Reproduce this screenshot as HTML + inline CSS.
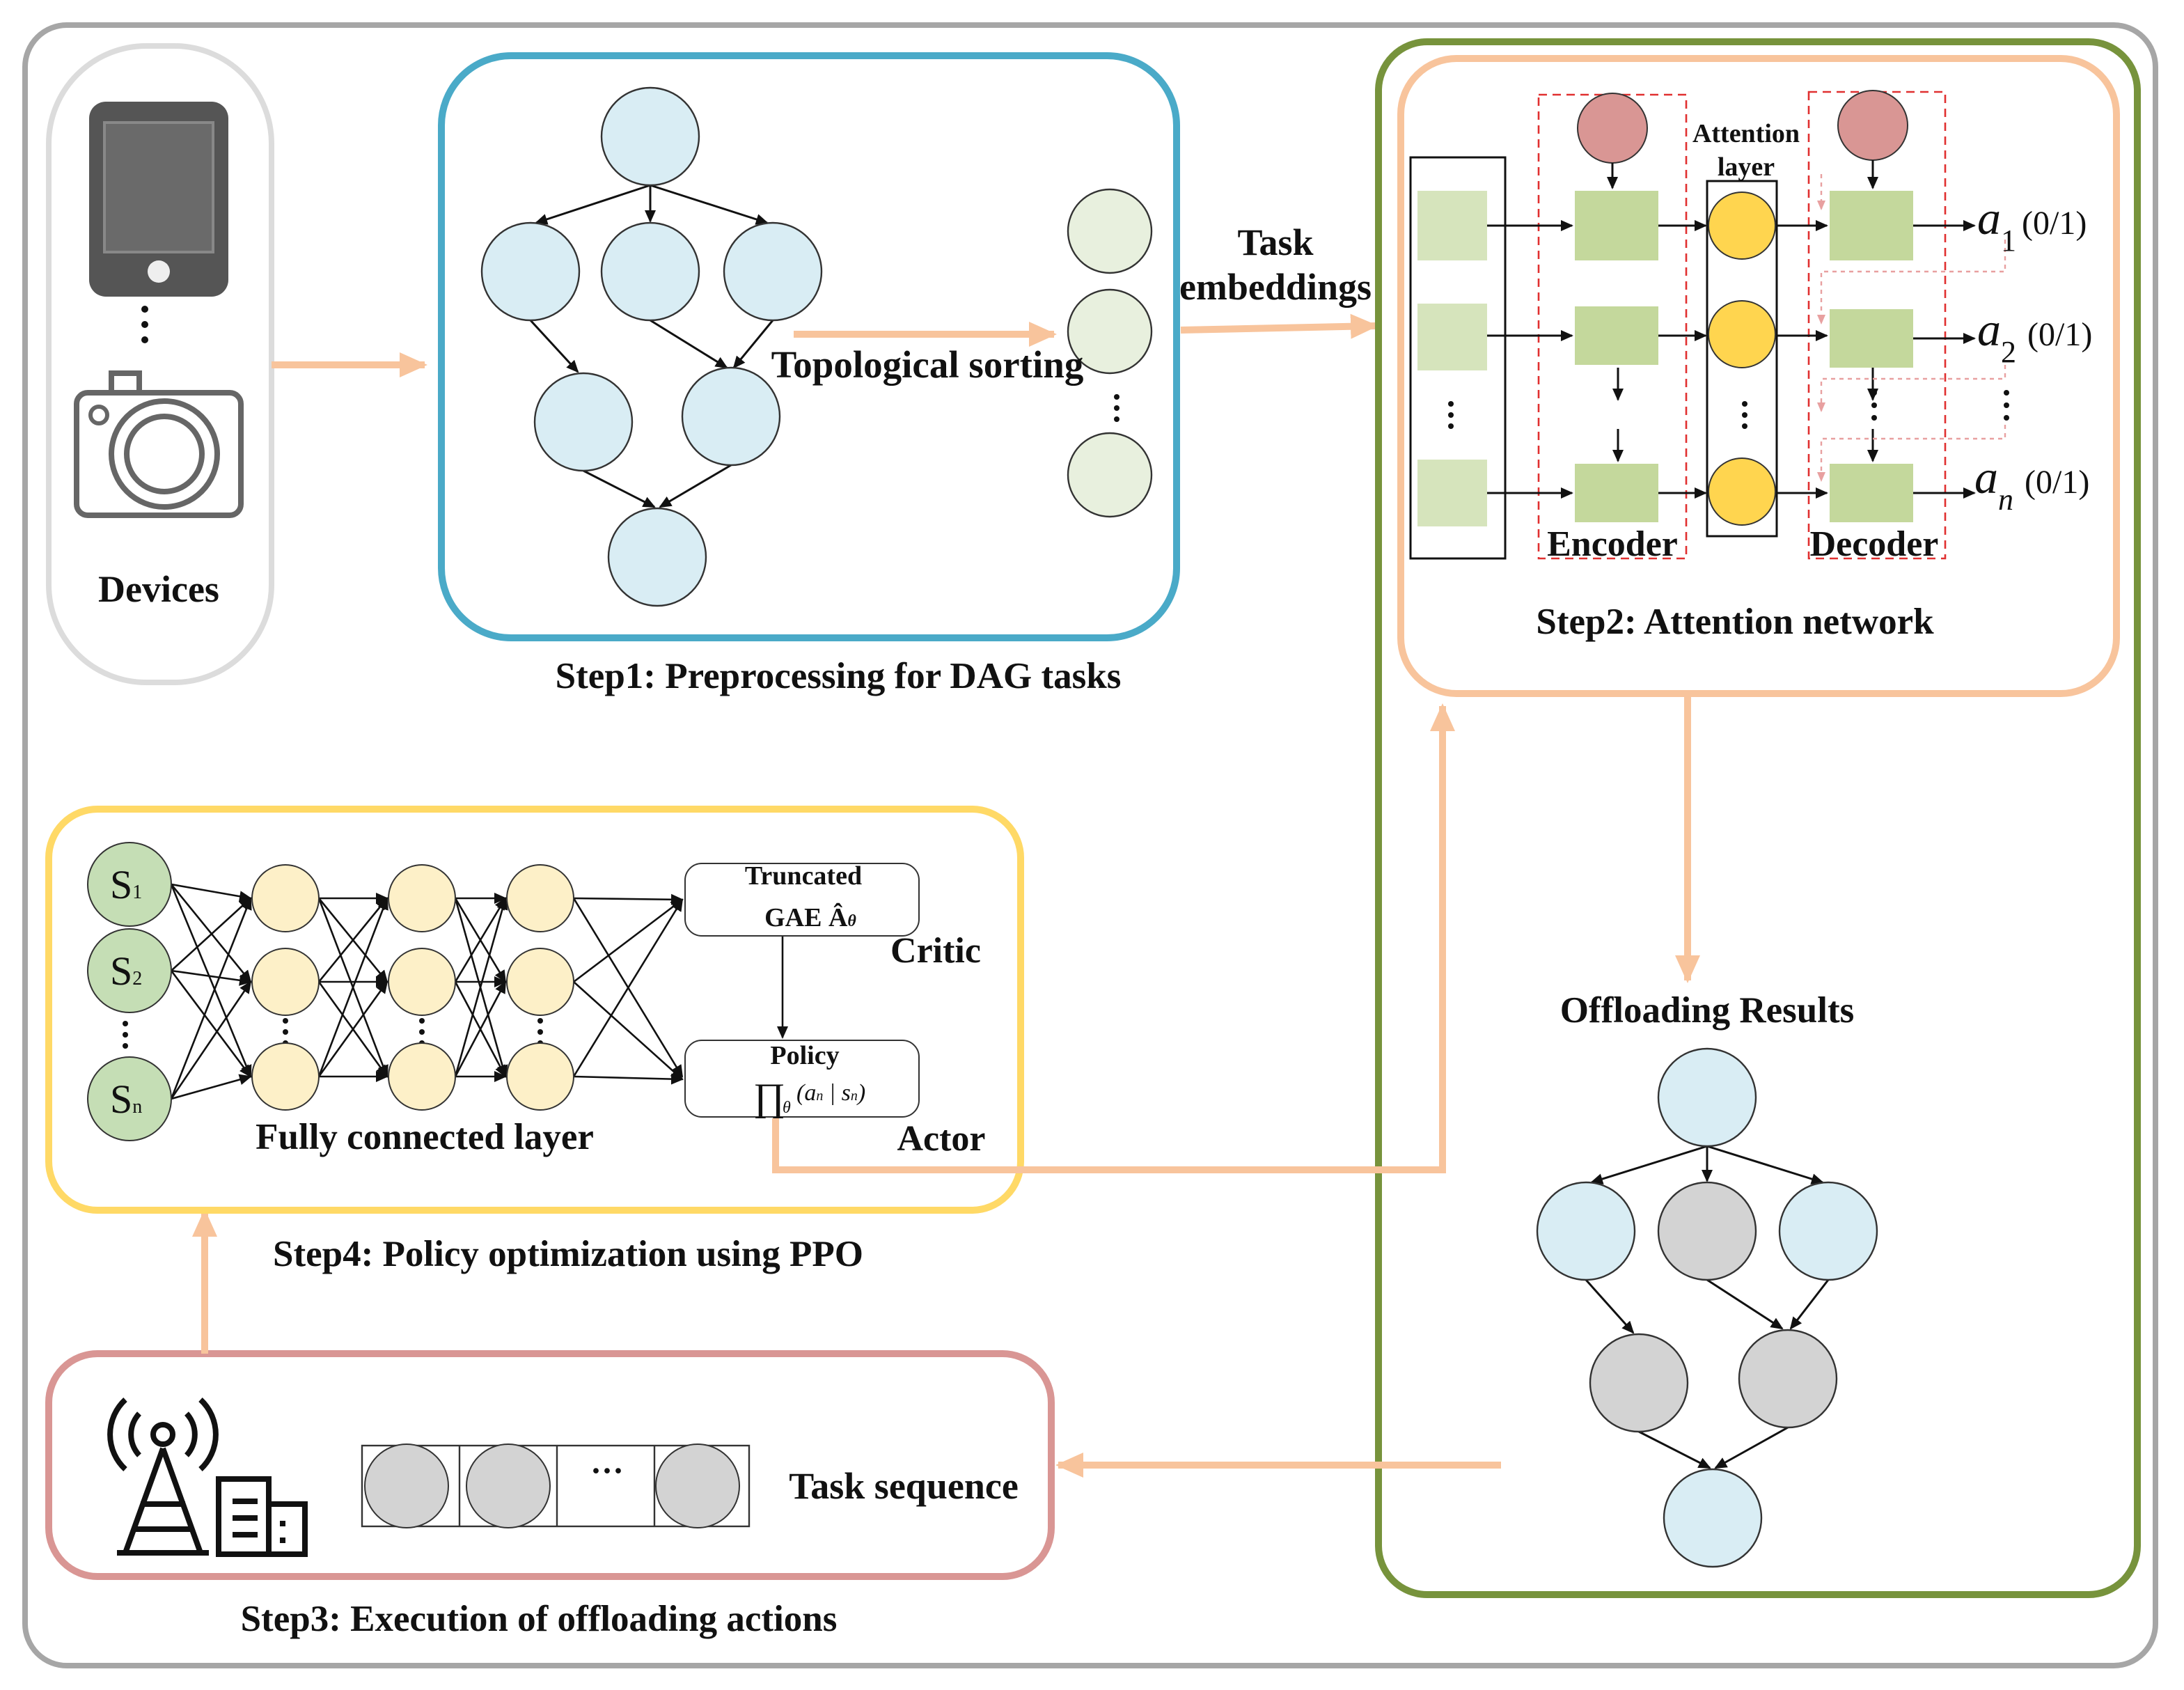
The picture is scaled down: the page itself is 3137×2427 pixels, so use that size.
<!DOCTYPE html>
<html><head><meta charset="utf-8"><style>
html,body{margin:0;padding:0;background:#fff;width:3137px;height:2427px;overflow:hidden}
svg{display:block}
text{font-family:"Liberation Serif",serif;font-weight:bold;fill:#111}
</style></head><body>
<svg width="3137" height="2427" viewBox="0 0 1568.5 1213.5" xmlns="http://www.w3.org/2000/svg">
<defs>
<marker id="ak" markerWidth="10" markerHeight="10" refX="8" refY="5" orient="auto" markerUnits="userSpaceOnUse"><path d="M0,1 L9,5 L0,9 z" fill="#111"/></marker>
<marker id="ao" markerWidth="22" markerHeight="22" refX="18" refY="11" orient="auto" markerUnits="userSpaceOnUse"><path d="M0,2 L20,11 L0,20 z" fill="#f8c49c"/></marker>
<marker id="ap" markerWidth="8" markerHeight="8" refX="6" refY="4" orient="auto" markerUnits="userSpaceOnUse"><path d="M0,1 L7,4 L0,7 z" fill="#e8a0a0"/></marker>
</defs>
<rect x="18" y="18" width="1530" height="1178" rx="30" fill="none" stroke="#a6a6a6" stroke-width="4"/>
<rect x="35" y="33" width="160" height="457" rx="70" fill="none" stroke="#dcdcdc" stroke-width="4"/>
<rect x="64" y="73" width="100" height="140" rx="12" fill="#555"/>
<rect x="75" y="88" width="78" height="93" fill="#6a6a6a" stroke="#888" stroke-width="2"/>
<circle cx="114" cy="195" r="8" fill="#eee"/>
<g fill="#111"><circle cx="104" cy="222" r="2.5"/><circle cx="104" cy="233" r="2.5"/><circle cx="104" cy="244" r="2.5"/></g>
<rect x="80" y="268" width="20" height="14" fill="none" stroke="#666" stroke-width="4"/>
<rect x="55" y="282" width="118" height="88" rx="8" fill="none" stroke="#666" stroke-width="4"/>
<circle cx="118" cy="326" r="38" fill="none" stroke="#666" stroke-width="4"/>
<circle cx="118" cy="326" r="27" fill="none" stroke="#666" stroke-width="4"/>
<circle cx="71" cy="298" r="6" fill="none" stroke="#666" stroke-width="3"/>
<text x="114" y="432" font-size="27" text-anchor="middle">Devices</text>
<line x1="195" y1="262" x2="305" y2="262" stroke="#f8c49c" stroke-width="5" marker-end="url(#ao)"/>
<rect x="317" y="40" width="528" height="418" rx="50" fill="none" stroke="#4aaac8" stroke-width="5"/>
<g stroke="#111" stroke-width="1.5" marker-end="url(#ak)">
<line x1="467" y1="133" x2="385" y2="160"/><line x1="467" y1="133" x2="467" y2="159"/><line x1="467" y1="133" x2="551" y2="160"/>
<line x1="381" y1="230" x2="415" y2="267"/><line x1="467" y1="230" x2="522" y2="264"/><line x1="555" y1="230" x2="527" y2="264"/>
<line x1="419" y1="338" x2="470" y2="364"/><line x1="525" y1="334" x2="474" y2="364"/>
</g>
<g fill="#d9edf4" stroke="#333" stroke-width="1.2">
<circle cx="467" cy="98" r="35"/><circle cx="381" cy="195" r="35"/><circle cx="467" cy="195" r="35"/><circle cx="555" cy="195" r="35"/>
<circle cx="419" cy="303" r="35"/><circle cx="525" cy="299" r="35"/><circle cx="472" cy="400" r="35"/>
</g>
<g fill="#e8f0de" stroke="#333" stroke-width="1.2"><circle cx="797" cy="166" r="30"/><circle cx="797" cy="238" r="30"/><circle cx="797" cy="341" r="30"/></g>
<g fill="#111"><circle cx="802" cy="285" r="2"/><circle cx="802" cy="293" r="2"/><circle cx="802" cy="301" r="2"/></g>
<line x1="570" y1="240" x2="757" y2="240" stroke="#f8c49c" stroke-width="5" marker-end="url(#ao)"/>
<text x="666" y="271" font-size="27.5" text-anchor="middle">Topological sorting</text>
<text x="602" y="494" font-size="26.5" text-anchor="middle">Step1: Preprocessing for DAG tasks</text>
<text x="916" y="183" font-size="27" text-anchor="middle">Task</text>
<text x="916" y="215" font-size="27" text-anchor="middle">embeddings</text>
<line x1="848" y1="237" x2="988" y2="234" stroke="#f8c49c" stroke-width="5" marker-end="url(#ao)"/>
<rect x="990" y="30" width="545" height="1115" rx="35" fill="none" stroke="#77933c" stroke-width="5"/>
<rect x="1006" y="42" width="514" height="456" rx="40" fill="none" stroke="#f8c49c" stroke-width="5"/>
<rect x="1013" y="113" width="68" height="288" fill="none" stroke="#111" stroke-width="1.5"/>
<g fill="#d6e4bc"><rect x="1018" y="137" width="50" height="50"/><rect x="1018" y="218" width="50" height="48"/><rect x="1018" y="330" width="50" height="48"/></g>
<g fill="#111"><circle cx="1042" cy="290" r="2"/><circle cx="1042" cy="298" r="2"/><circle cx="1042" cy="306" r="2"/></g>
<rect x="1105" y="68" width="106" height="333" fill="none" stroke="#e03030" stroke-width="1.3" stroke-dasharray="6,4"/>
<rect x="1299" y="66" width="98" height="335" fill="none" stroke="#e03030" stroke-width="1.3" stroke-dasharray="6,4"/>
<circle cx="1158" cy="92" r="25" fill="#d99694" stroke="#333"/>
<circle cx="1345" cy="90" r="25" fill="#d99694" stroke="#333"/>
<g fill="#c4d89c"><rect x="1131" y="137" width="60" height="50"/><rect x="1131" y="220" width="60" height="42"/><rect x="1131" y="333" width="60" height="42"/>
<rect x="1314" y="137" width="60" height="50"/><rect x="1314" y="222" width="60" height="42"/><rect x="1314" y="333" width="60" height="42"/></g>
<rect x="1226" y="130" width="50" height="255" fill="none" stroke="#111" stroke-width="1.5"/>
<g fill="#ffd54f" stroke="#333"><circle cx="1251" cy="162" r="24"/><circle cx="1251" cy="240" r="24"/><circle cx="1251" cy="353" r="24"/></g>
<g fill="#111"><circle cx="1253" cy="290" r="2"/><circle cx="1253" cy="298" r="2"/><circle cx="1253" cy="306" r="2"/></g>
<text x="1254" y="102" font-size="19" text-anchor="middle">Attention</text>
<text x="1254" y="126" font-size="19" text-anchor="middle">layer</text>
<g stroke="#111" stroke-width="1.5" marker-end="url(#ak)">
<line x1="1068" y1="162" x2="1129" y2="162"/><line x1="1068" y1="241" x2="1129" y2="241"/><line x1="1068" y1="354" x2="1129" y2="354"/>
<line x1="1191" y1="162" x2="1225" y2="162"/><line x1="1191" y1="241" x2="1225" y2="241"/><line x1="1191" y1="354" x2="1225" y2="354"/>
<line x1="1276" y1="162" x2="1312" y2="162"/><line x1="1276" y1="241" x2="1312" y2="241"/><line x1="1276" y1="354" x2="1312" y2="354"/>
<line x1="1374" y1="162" x2="1418" y2="162"/><line x1="1374" y1="243" x2="1418" y2="243"/><line x1="1374" y1="354" x2="1418" y2="354"/>
<line x1="1158" y1="117" x2="1158" y2="135"/><line x1="1345" y1="115" x2="1345" y2="135"/>
<line x1="1162" y1="264" x2="1162" y2="287"/><line x1="1162" y1="308" x2="1162" y2="331"/>
<line x1="1345" y1="264" x2="1345" y2="287"/><line x1="1345" y1="308" x2="1345" y2="331"/>
</g>
<g fill="none" stroke="#e8a0a0" stroke-width="1.2" stroke-dasharray="3,3">
<path d="M1440,172 V195 H1308 V232" marker-end="url(#ap)"/>
<path d="M1440,262 V272 H1308 V295" marker-end="url(#ap)"/>
<path d="M1440,305 V315 H1308 V345" marker-end="url(#ap)"/>
<path d="M1308,125 V150" marker-end="url(#ap)"/>
</g>
<g fill="#111"><circle cx="1346" cy="282" r="2"/><circle cx="1346" cy="291" r="2"/><circle cx="1346" cy="300" r="2"/>
<circle cx="1441" cy="282" r="2"/><circle cx="1441" cy="291" r="2"/><circle cx="1441" cy="300" r="2"/></g>
<text x="1420" y="168" font-size="34" font-style="italic" style="font-weight:normal">a</text><text x="1437" y="180" font-size="22" style="font-weight:normal">1</text><text x="1452" y="168" font-size="24" style="font-weight:normal">(0/1)</text>
<text x="1420" y="248" font-size="34" font-style="italic" style="font-weight:normal">a</text><text x="1437" y="260" font-size="22" style="font-weight:normal">2</text><text x="1456" y="248" font-size="24" style="font-weight:normal">(0/1)</text>
<text x="1418" y="354" font-size="34" font-style="italic" style="font-weight:normal">a</text><text x="1435" y="366" font-size="22" font-style="italic" style="font-weight:normal">n</text><text x="1454" y="354" font-size="24" style="font-weight:normal">(0/1)</text>
<text x="1158" y="399" font-size="26" text-anchor="middle">Encoder</text>
<text x="1346" y="399" font-size="26" text-anchor="middle">Decoder</text>
<text x="1246" y="455" font-size="26.5" text-anchor="middle">Step2: Attention network</text>
<line x1="1212" y1="498" x2="1212" y2="704" stroke="#f8c49c" stroke-width="5" marker-end="url(#ao)"/>
<text x="1226" y="734" font-size="26.5" text-anchor="middle">Offloading Results</text>
<g stroke="#111" stroke-width="1.5" marker-end="url(#ak)">
<line x1="1226" y1="823" x2="1143" y2="849"/><line x1="1226" y1="823" x2="1226" y2="848"/><line x1="1226" y1="823" x2="1309" y2="849"/>
<line x1="1139" y1="919" x2="1173" y2="957"/><line x1="1226" y1="919" x2="1280" y2="954"/><line x1="1313" y1="919" x2="1286" y2="954"/>
<line x1="1177" y1="1028" x2="1228" y2="1054"/><line x1="1284" y1="1025" x2="1232" y2="1054"/>
</g>
<g stroke="#333" stroke-width="1.2">
<circle cx="1226" cy="788" r="35" fill="#d9edf4"/><circle cx="1139" cy="884" r="35" fill="#d9edf4"/><circle cx="1226" cy="884" r="35" fill="#d3d3d3"/><circle cx="1313" cy="884" r="35" fill="#d9edf4"/>
<circle cx="1177" cy="993" r="35" fill="#d3d3d3"/><circle cx="1284" cy="990" r="35" fill="#d3d3d3"/><circle cx="1230" cy="1090" r="35" fill="#d9edf4"/>
</g>
<line x1="1078" y1="1052" x2="760" y2="1052" stroke="#f8c49c" stroke-width="5" marker-end="url(#ao)"/>
<rect x="35" y="972" width="720" height="160" rx="35" fill="none" stroke="#d99694" stroke-width="5"/>
<g fill="none" stroke="#111" stroke-width="4">
<path d="M117,1040 L90,1115 M117,1040 L144,1115 M101,1080 L133,1080 M95,1098 L139,1098 M84,1115 L150,1115"/>
<circle cx="117" cy="1030" r="7"/>
<path d="M100,1015 a22,22 0 0 0 0,30 M134,1015 a22,22 0 0 1 0,30 M90,1005 a34,34 0 0 0 0,50 M144,1005 a34,34 0 0 1 0,50"/>
<rect x="157" y="1062" width="36" height="54"/><rect x="193" y="1080" width="26" height="36"/>
<path d="M167,1078 h18 M167,1090 h18 M167,1102 h18 M203,1092 v4 M203,1104 v4"/>
</g>
<rect x="260" y="1038" width="278" height="58" fill="none" stroke="#333" stroke-width="1.2"/>
<g stroke="#333" stroke-width="1.2"><line x1="330" y1="1038" x2="330" y2="1096"/><line x1="400" y1="1038" x2="400" y2="1096"/><line x1="470" y1="1038" x2="470" y2="1096"/></g>
<g fill="#d3d3d3" stroke="#333"><circle cx="292" cy="1067" r="30"/><circle cx="365" cy="1067" r="30"/><circle cx="501" cy="1067" r="30"/></g>
<text x="436" y="1064" font-size="24" text-anchor="middle">···</text>
<text x="649" y="1076" font-size="27" text-anchor="middle">Task sequence</text>
<text x="387" y="1171" font-size="26.5" text-anchor="middle">Step3: Execution of offloading actions</text>
<line x1="147" y1="972" x2="147" y2="870" stroke="#f8c49c" stroke-width="5" marker-end="url(#ao)"/>
<rect x="35" y="581" width="698" height="288" rx="35" fill="none" stroke="#ffd966" stroke-width="5"/>
<g stroke="#111" stroke-width="1.3" marker-end="url(#ak)">
<line x1="123" y1="635" x2="180" y2="645"/><line x1="123" y1="635" x2="180" y2="705"/><line x1="123" y1="635" x2="180" y2="773"/>
<line x1="123" y1="697" x2="180" y2="645"/><line x1="123" y1="697" x2="180" y2="705"/><line x1="123" y1="697" x2="180" y2="773"/>
<line x1="123" y1="789" x2="180" y2="645"/><line x1="123" y1="789" x2="180" y2="705"/><line x1="123" y1="789" x2="180" y2="773"/>
<line x1="229" y1="645" x2="278" y2="645"/><line x1="229" y1="645" x2="278" y2="705"/><line x1="229" y1="645" x2="278" y2="773"/>
<line x1="229" y1="705" x2="278" y2="645"/><line x1="229" y1="705" x2="278" y2="705"/><line x1="229" y1="705" x2="278" y2="773"/>
<line x1="229" y1="773" x2="278" y2="645"/><line x1="229" y1="773" x2="278" y2="705"/><line x1="229" y1="773" x2="278" y2="773"/>
<line x1="327" y1="645" x2="363" y2="645"/><line x1="327" y1="645" x2="363" y2="705"/><line x1="327" y1="645" x2="363" y2="773"/>
<line x1="327" y1="705" x2="363" y2="645"/><line x1="327" y1="705" x2="363" y2="705"/><line x1="327" y1="705" x2="363" y2="773"/>
<line x1="327" y1="773" x2="363" y2="645"/><line x1="327" y1="773" x2="363" y2="705"/><line x1="327" y1="773" x2="363" y2="773"/>
<line x1="412" y1="645" x2="490" y2="646"/><line x1="412" y1="645" x2="490" y2="773"/>
<line x1="412" y1="773" x2="490" y2="646"/><line x1="412" y1="773" x2="490" y2="775"/>
<line x1="412" y1="705" x2="490" y2="646"/><line x1="412" y1="705" x2="490" y2="775"/>
<line x1="562" y1="672" x2="562" y2="745"/>
</g>
<g fill="#c5deb5" stroke="#333"><circle cx="93" cy="635" r="30"/><circle cx="93" cy="697" r="30"/><circle cx="93" cy="789" r="30"/></g>
<text x="79" y="645" font-size="29" style="font-weight:normal">S<tspan font-size="14">1</tspan></text><text x="79" y="707" font-size="29" style="font-weight:normal">S<tspan font-size="14">2</tspan></text><text x="79" y="799" font-size="29" style="font-weight:normal">S<tspan font-size="14">n</tspan></text>
<g fill="#111"><circle cx="90" cy="735" r="2"/><circle cx="90" cy="743" r="2"/><circle cx="90" cy="751" r="2"/>
<circle cx="205" cy="733" r="2"/><circle cx="205" cy="741" r="2"/><circle cx="205" cy="749" r="2"/>
<circle cx="303" cy="733" r="2"/><circle cx="303" cy="741" r="2"/><circle cx="303" cy="749" r="2"/>
<circle cx="388" cy="733" r="2"/><circle cx="388" cy="741" r="2"/><circle cx="388" cy="749" r="2"/></g>
<g fill="#fdf0c8" stroke="#333">
<circle cx="205" cy="645" r="24"/><circle cx="205" cy="705" r="24"/><circle cx="205" cy="773" r="24"/>
<circle cx="303" cy="645" r="24"/><circle cx="303" cy="705" r="24"/><circle cx="303" cy="773" r="24"/>
<circle cx="388" cy="645" r="24"/><circle cx="388" cy="705" r="24"/><circle cx="388" cy="773" r="24"/>
</g>
<rect x="492" y="620" width="168" height="52" rx="12" fill="#fff" stroke="#333"/>
<rect x="492" y="747" width="168" height="55" rx="12" fill="#fff" stroke="#333"/>
<text x="577" y="635" font-size="19" text-anchor="middle">Truncated</text>
<text x="582" y="665" font-size="19" text-anchor="middle">GAE Â<tspan font-size="12" font-style="italic">θ</tspan></text>
<text x="578" y="764" font-size="19" text-anchor="middle">Policy</text>
<text x="541" y="797" font-size="28" style="font-weight:normal">∏</text><text x="562" y="799" font-size="12" font-style="italic" style="font-weight:normal">θ</text><text x="572" y="790" font-size="17" font-style="italic" style="font-weight:normal">(a<tspan font-size="10">n</tspan> | s<tspan font-size="10">n</tspan>)</text>
<text x="672" y="691" font-size="26" text-anchor="middle">Critic</text>
<text x="676" y="826" font-size="26" text-anchor="middle">Actor</text>
<text x="305" y="825" font-size="26.5" text-anchor="middle">Fully connected layer</text>
<text x="408" y="909" font-size="26.5" text-anchor="middle">Step4: Policy optimization using PPO</text>
<path d="M557,803 V840 H1036 V507" fill="none" stroke="#f8c49c" stroke-width="5" marker-end="url(#ao)"/>
</svg>
</body></html>
